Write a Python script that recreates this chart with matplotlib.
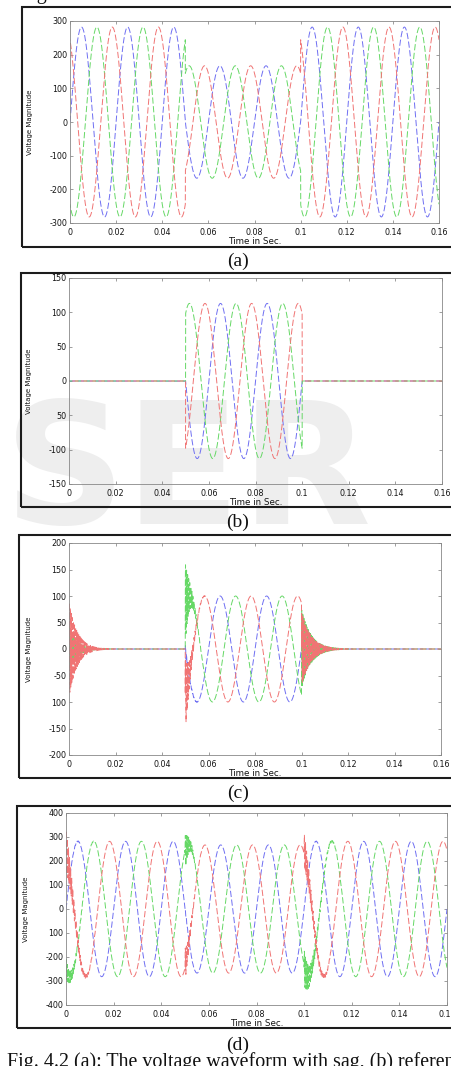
import numpy as np
import matplotlib
matplotlib.use('Agg')
import matplotlib.pyplot as plt
from matplotlib.patches import Rectangle

W, H = 451, 1066          # output size in pixels

# ── waveform values ───────────────────────────────────────────────────────────
F_SUPPLY  = 50.0                 # Hz  (one cycle = 0.02 s)
T_END     = 0.16
EVENTS    = [0.0, 0.05, 0.1]     # switching instants: start, sag on, sag off
PHASE_DEG = [0, 120, -120]       # blue, red, green

AMP_SUPPLY = [282, 167, 282]     # (a) peak before / during / after the sag
AMP_REF    = [0, 113, 0]         # (b) reference, only during the sag
AMP_INJ    = [0, 100, 0]         # (c) injected, only during the sag

# switching ringing seen in (c) and (d): peak per event for blue, red, green
RING_AMP = [[8, 90, 40], [10, 68, 75], [5, 70, 75]]
RING_TAU = [0.0035, 0.0018, 0.004]   # s, decay time per event
RING_HZ  = 2200

# axis ticks / labels as printed (scan lost some minus signs)
X_TICKS  = [0, 0.02, 0.04, 0.06, 0.08, 0.1, 0.12, 0.14, 0.16]
X_LABELS = ['0', '0.02', '0.04', '0.06', '0.08', '0.1', '0.12', '0.14', '0.16']
Y_TICKS = [
    [300, 200, 100, 0, -100, -200, -300],
    [150, 100, 50, 0, -50, -100, -150],
    [200, 150, 100, 50, 0, -50, -100, -150, -200],
    [400, 300, 200, 100, 0, -100, -200, -300, -400],
]
Y_LABELS = [
    ['300', '200', '100', '0', '-100', '-200', '-300'],
    ['150', '100', '50', '0', '50', '-100', '-150'],
    ['200', '150', '100', '50', '0', '-50', '100', '-150', '-200'],
    ['400', '300', '200', '100', '0', '100', '-200', '-300', '-400'],
]
CAPTIONS = ['(a)', '(b)', '(c)', '(d)']

# ── layout (pixel boxes measured on the reference) ────────────────────────────
AX_BOX    = [(70, 21, 439, 223), (69, 278, 442, 484),
             (69, 543, 441, 755), (66, 813, 447, 1005)]   # left, top, right, bottom
FRAME_BOX = [(22, 7, 247), (21, 273, 507), (19, 535, 778), (17, 806, 1028)]
CAPTION_Y = [261, 522, 793, 1045]

COLORS = ['#6f6ff2', '#f07474', '#66d866']   # blue, red, green
DRAW_ORDER = [0, 2, 1]
DASH_OFFSET = [0, 4, 2]

plt.rcParams['font.family'] = 'DejaVu Sans'
plt.rcParams['lines.scale_dashes'] = False

# ── build the series ──────────────────────────────────────────────────────────
t = np.linspace(0, T_END, 80001)


def segment(amps):
    return np.select([t < EVENTS[1], t < EVENTS[2]], amps[:2], amps[2])


def three_phase(amps):
    a = segment(amps)
    return [a * np.sin(2 * np.pi * F_SUPPLY * t + np.deg2rad(p)) for p in PHASE_DEG]


def ringing(k):
    out = np.zeros_like(t)
    for e, amps, tau in zip(EVENTS, RING_AMP, RING_TAU):
        m = t >= e
        d = t[m] - e
        out[m] += amps[k] * np.exp(-d / tau) * np.sin(2 * np.pi * RING_HZ * d)
    return out


supply   = three_phase(AMP_SUPPLY)
ref      = three_phase(AMP_REF)
injected = [s + ringing(k) for k, s in enumerate(three_phase(AMP_INJ))]
load     = [s + i for s, i in zip(supply, injected)]
PANELS   = [supply, ref, injected, load]

# ── draw ──────────────────────────────────────────────────────────────────────
fig = plt.figure(figsize=(W / 100, H / 100), dpi=100)
fig.patch.set_facecolor('white')


def fx(px):
    return px / W


def fy(py):
    return 1 - py / H


# faint watermark behind panel (b)
fig.text(fx(4), fy(524), 'SER', fontsize=122, fontweight='bold',
         color='#eeeeee', ha='left', va='baseline', zorder=-5)

for i, series in enumerate(PANELS):
    l, tp, r, b = AX_BOX[i]
    ax = fig.add_axes([fx(l), fy(b), (r - l) / W, (b - tp) / H])
    ax.set_facecolor('none')

    for k in DRAW_ORDER:
        ax.plot(t, series[k], color=COLORS[k], lw=0.7,
                linestyle=(DASH_OFFSET[k], (4.5, 1.8)))

    ax.set_xlim(0, T_END)
    ax.set_ylim(Y_TICKS[i][-1], Y_TICKS[i][0])
    ax.set_xticks(X_TICKS)
    ax.set_xticklabels(X_LABELS)
    ax.set_yticks(Y_TICKS[i])
    ax.set_yticklabels(Y_LABELS[i])
    ax.tick_params(direction='in', length=2.2, width=0.5, color='#777777',
                   labelcolor='#151515', labelsize=5.8, top=True, right=True)
    ax.tick_params(axis='x', pad=3.6)
    ax.tick_params(axis='y', pad=2)
    for sp in ax.spines.values():
        sp.set_color('#888888')
        sp.set_linewidth(0.6)

    # axis titles
    fig.text(fx(l - 40), fy((tp + b) / 2), 'Voltage Magnitude', rotation=90,
             fontsize=5, ha='center', va='center', color='#151515')
    fig.text(fx((l + r) / 2), fy(b + 18.5), 'Time in Sec.', fontsize=6.3,
             ha='center', va='center', color='#151515')

    # surrounding frame of the pasted figure
    fl, ft, fb = FRAME_BOX[i]
    fig.add_artist(Rectangle((fx(fl), fy(fb)), fx(W + 10 - fl), (fb - ft) / H,
                             transform=fig.transFigure, fill=False,
                             edgecolor='#1c1c1c', linewidth=1.5))

    fig.text(fx(238), fy(CAPTION_Y[i]), CAPTIONS[i], family='Liberation Serif',
             fontsize=14, ha='center', va='center', color='#111111')

# text lines of the page that surround the figure
fig.text(fx(20), fy(-0.5), 'Fig', family='Liberation Serif', fontsize=14.4,
         ha='left', va='baseline', color='#111111')
fig.text(fx(7), fy(1067), 'Fig. 4.2 (a): The voltage waveform with sag, (b) reference '
         'voltage, (c) injected voltage, (d) load voltage',
         family='Liberation Serif', fontsize=14.4, ha='left', va='baseline',
         color='#111111')

fig.savefig('out.png', dpi=100)
